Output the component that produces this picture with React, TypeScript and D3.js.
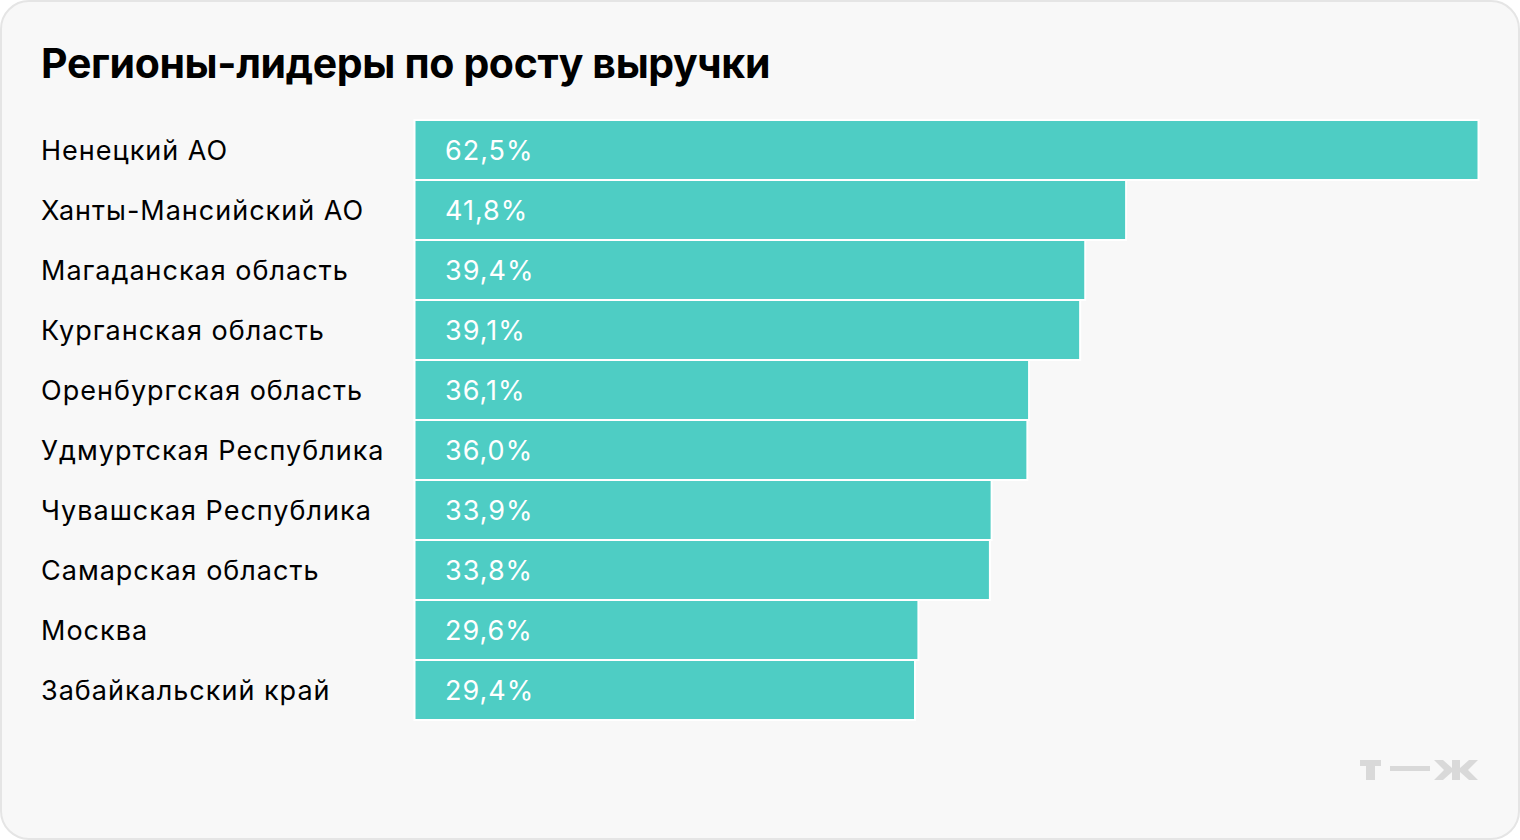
import React from "react";
import * as d3 from "d3";

const regions = [
  "Ненецкий АО",
  "Ханты-Мансийский АО",
  "Магаданская область",
  "Курганская область",
  "Оренбургская область",
  "Удмуртская Республика",
  "Чувашская Республика",
  "Самарская область",
  "Москва",
  "Забайкальский край",
];
const growth = [62.5, 41.8, 39.4, 39.1, 36.1, 36.0, 33.9, 33.8, 29.6, 29.4];
const title = "Регионы-лидеры по росту выручки";

const W = 1520;
const H = 840;
const FONT = "Inter, 'Noto Sans', sans-serif";

export default function App() {
  const x = d3.scaleLinear().domain([0, 62.5]).range([415, 1479]);
  const y = d3
    .scaleBand<string>()
    .domain(regions)
    .range([120, 720])
    .paddingInner(0)
    .paddingOuter(0);
  const fmt = (v: number) => d3.format(".1f")(v).replace(".", ",") + "%";

  return (
    <svg
      width={W}
      height={H}
      style={{ position: "absolute", left: 0, top: 0, display: "block" }}
    >
      <rect
        x={1}
        y={1}
        width={W - 2}
        height={H - 2}
        rx={28}
        fill="#f8f8f8"
        stroke="#e5e5e5"
        strokeWidth={2}
      />
      <text
        x={41}
        y={78}
        fontFamily={FONT}
        fontWeight={700}
        fontSize={41}
        fill="#000"
        letterSpacing={-0.35}
      >
        {title}
      </text>
      {regions.map((r, i) => {
        const yy = y(r)!;
        const bw = y.bandwidth();
        return (
          <g key={r}>
            <rect
              x={x(0) - 0.5}
              y={yy}
              width={x(growth[i]) - x(0)}
              height={bw}
              fill="#4ecdc4"
              stroke="#ffffff"
              strokeWidth={2}
            />
            <text
              x={41}
              y={yy + bw / 2 + 9.5}
              fontFamily={FONT}
              fontSize={27}
              letterSpacing={1}
              fill="#000"
            >
              {r}
            </text>
            <text
              x={445}
              y={yy + bw / 2 + 9.5}
              fontFamily={FONT}
              fontSize={27}
              letterSpacing={1}
              fill="#ffffff"
            >
              {fmt(growth[i])}
            </text>
          </g>
        );
      })}
      <g fill="#d9d9d9">
        <rect x={1360} y={760} width={21} height={6} />
        <rect x={1366} y={760} width={9} height={20} />
        <rect x={1390} y={766} width={40} height={5} />
        <rect x={1452} y={760} width={8} height={20} />
        <polygon points="1434,760 1443,760 1452,768 1452,772 1443,780 1434,780 1444,770" />
        <polygon points="1478,760 1469,760 1460,768 1460,772 1469,780 1478,780 1468,770" />
      </g>
    </svg>
  );
}
